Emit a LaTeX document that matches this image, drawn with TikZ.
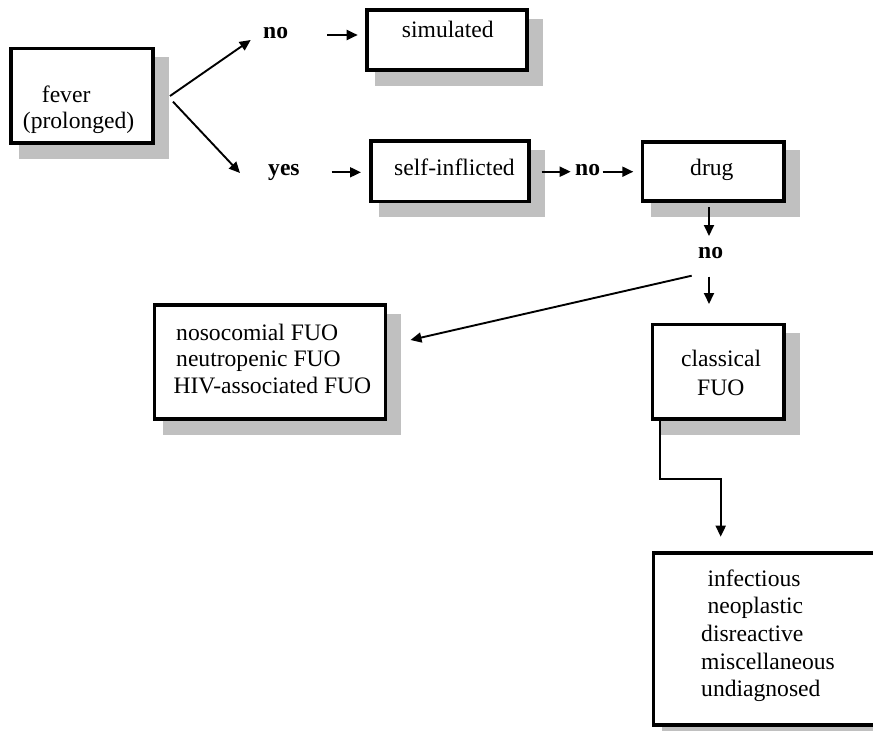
\documentclass[tikz,border=0pt]{standalone}
\usepackage{fontspec}
\setmainfont{Liberation Serif}
\usetikzlibrary{arrows.meta,calc,backgrounds}
\definecolor{shadowgray}{RGB}{192,192,192}
\tikzset{
  boxnode/.style={draw=black, line width=3.6pt, fill=white, rectangle, inner sep=0pt},
  txt/.style={anchor=base west, inner sep=0pt, font=\fontsize{23.6}{27}\selectfont},
  lbl/.style={anchor=base west, inner sep=0pt, font=\fontsize{23.6}{27}\selectfont\bfseries},
  arr/.style={line width=1.9pt, -{Triangle[length=11pt,width=10pt]}},
}
\newcommand{\shadowof}[1]{%
  \fill[shadowgray] ($(#1.north west)+(10.2,10.2)$) rectangle ($(#1.south east)+(13.8,13.8)$);}
\begin{document}
\begin{tikzpicture}[x=1pt,y=-1pt]
\useasboundingbox (0,0) rectangle (873,731);
\clip (0,0) rectangle (873,731);
% boxes
\node[boxnode, minimum width=142.4pt, minimum height=94.7pt] (fever) at (82,95.85) {};
\node[boxnode, minimum width=160.4pt, minimum height=59.8pt] (sim) at (447,40) {};
\node[boxnode, minimum width=158.1pt, minimum height=60.4pt] (self) at (449.85,171.3) {};
\node[boxnode, minimum width=141.4pt, minimum height=59.1pt] (drug) at (713.2,171.35) {};
\node[boxnode, minimum width=231pt, minimum height=113.8pt] (noso) at (270,362) {};
\node[boxnode, minimum width=131.4pt, minimum height=94.4pt] (classical) at (718.2,371.7) {};
\node[boxnode, minimum width=234.6pt, minimum height=172.1pt] (causes) at (770.85,638.85) {};
\begin{scope}[on background layer]
\shadowof{fever}\shadowof{sim}\shadowof{self}\shadowof{drug}\shadowof{noso}\shadowof{classical}\shadowof{causes}
\end{scope}
% texts
\node[txt] (t1) at (41.7,102.7) {fever};
\node[txt] (t2) at (22.7,128.5) {(prolonged)};
\node[txt] (t3) at (401.7,37.3) {simulated};
\node[txt] (t4) at (394,175.7) {self-inflicted};
\node[txt] (t5) at (690,175.7) {drug};
\node[txt] (t6) at (176,340) {nosocomial FUO};
\node[txt] (t7) at (176,366.7) {neutropenic FUO};
\node[txt] (t8) at (173.3,393.3) {HIV-associated FUO};
\node[txt] (t9) at (681,366.7) {classical};
\node[txt] (t10) at (697,395.5) {FUO};
\node[txt] (t11) at (707.3,586) {infectious};
\node[txt] (t12) at (707.3,613.3) {neoplastic};
\node[txt] (t13) at (701,641.7) {disreactive};
\node[txt] (t14) at (701,669.3) {miscellaneous};
\node[txt] (t15) at (701,696.7) {undiagnosed};
% labels
\node[lbl] (no1) at (263,38.3) {no};
\node[lbl] (yes) at (268,175) {yes};
\node[lbl] (no2) at (575,175.7) {no};
\node[lbl] (no3) at (698,258.3) {no};
% arrow endpoints
\coordinate (a1s) at (170,96);   \coordinate (a1e) at (250.7,40);
\coordinate (a2s) at (173,101.7); \coordinate (a2e) at (240,173);
\coordinate (a3s) at (327,35);   \coordinate (a3e) at (357.7,35);
\coordinate (a4s) at (331.7,172.3); \coordinate (a4e) at (361,172.3);
\coordinate (a5s) at (541.7,171.7); \coordinate (a5e) at (570.7,171.7);
\coordinate (a6s) at (602.7,171.7); \coordinate (a6e) at (633.3,171.7);
\coordinate (a7s) at (709,207);  \coordinate (a7e) at (709,236);
\coordinate (a8s) at (709,276.7); \coordinate (a8e) at (709,304);
\coordinate (a9s) at (691.7,275.7); \coordinate (a9e) at (410.5,340);
\coordinate (a10s) at (660,420.7); \coordinate (a10m) at (660,479);
\coordinate (a10n) at (720.7,479); \coordinate (a10e) at (720.7,536.7);
\draw[arr] (a1s) -- (a1e);
\draw[arr] (a2s) -- (a2e);
\draw[arr] (a3s) -- (a3e);
\draw[arr] (a4s) -- (a4e);
\draw[arr] (a5s) -- (a5e);
\draw[arr] (a6s) -- (a6e);
\draw[arr] (a7s) -- (a7e);
\draw[arr] (a8s) -- (a8e);
\draw[arr] (a9s) -- (a9e);
\draw[arr] (a10s) -- (a10m) -- (a10n) -- (a10e);
\end{tikzpicture}
\end{document}
